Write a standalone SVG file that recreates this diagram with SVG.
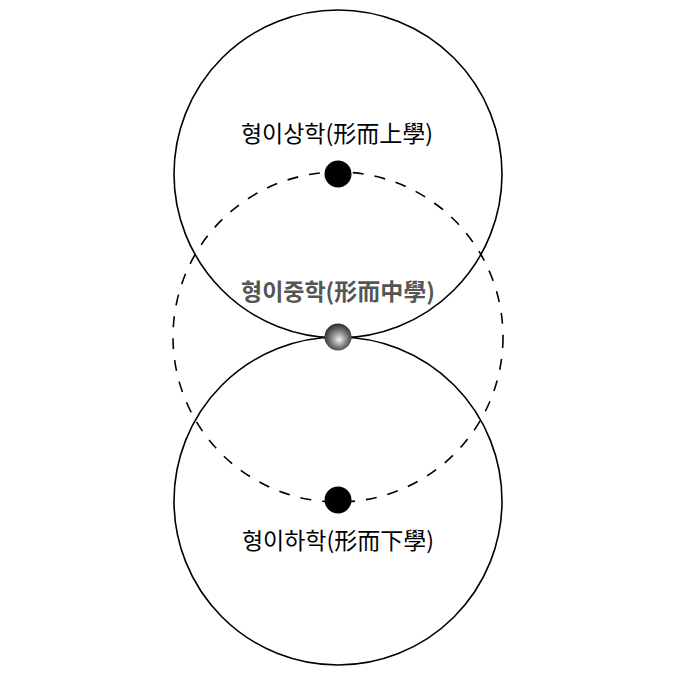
<svg xmlns="http://www.w3.org/2000/svg" width="676" height="676" viewBox="0 0 676 676">
<style>
.ring{fill:none;stroke:#000;stroke-width:1.6}
.dash{fill:none;stroke:#000;stroke-width:1.6;stroke-dasharray:11 11}
.lbl{font-family:"Noto Sans CJK KR","Noto Sans CJK SC",sans-serif;font-size:23px;text-anchor:middle;fill:#000}
.mid{fill:#555;font-weight:bold}
</style>
<defs>
<radialGradient id="sph" cx="0.52" cy="0.55" r="0.6" fx="0.55" fy="0.6">
<stop offset="0" stop-color="#f2f2f2"/>
<stop offset="0.45" stop-color="#8a8a8a"/>
<stop offset="1" stop-color="#1a1a1a"/>
</radialGradient>
</defs>
<rect width="676" height="676" fill="#fff"/>
<g id="connectors">
<circle class="ring" cx="338" cy="174" r="164"/>
<circle class="ring" cx="338" cy="501" r="164"/>
<circle class="dash" cx="338" cy="337" r="165"/>
</g>
<g id="upper">
<circle cx="338" cy="174" r="13.5" fill="#000"/>
<text class="lbl" x="337" y="142">형이상학(形而上學)</text>
</g>
<g id="middle">
<circle cx="338" cy="337" r="13.5" fill="url(#sph)"/>
<text class="lbl mid" x="338" y="300">형이중학(形而中學)</text>
</g>
<g id="lower">
<circle cx="338" cy="500" r="13.5" fill="#000"/>
<text class="lbl" x="338" y="549">형이하학(形而下學)</text>
</g>
</svg>
